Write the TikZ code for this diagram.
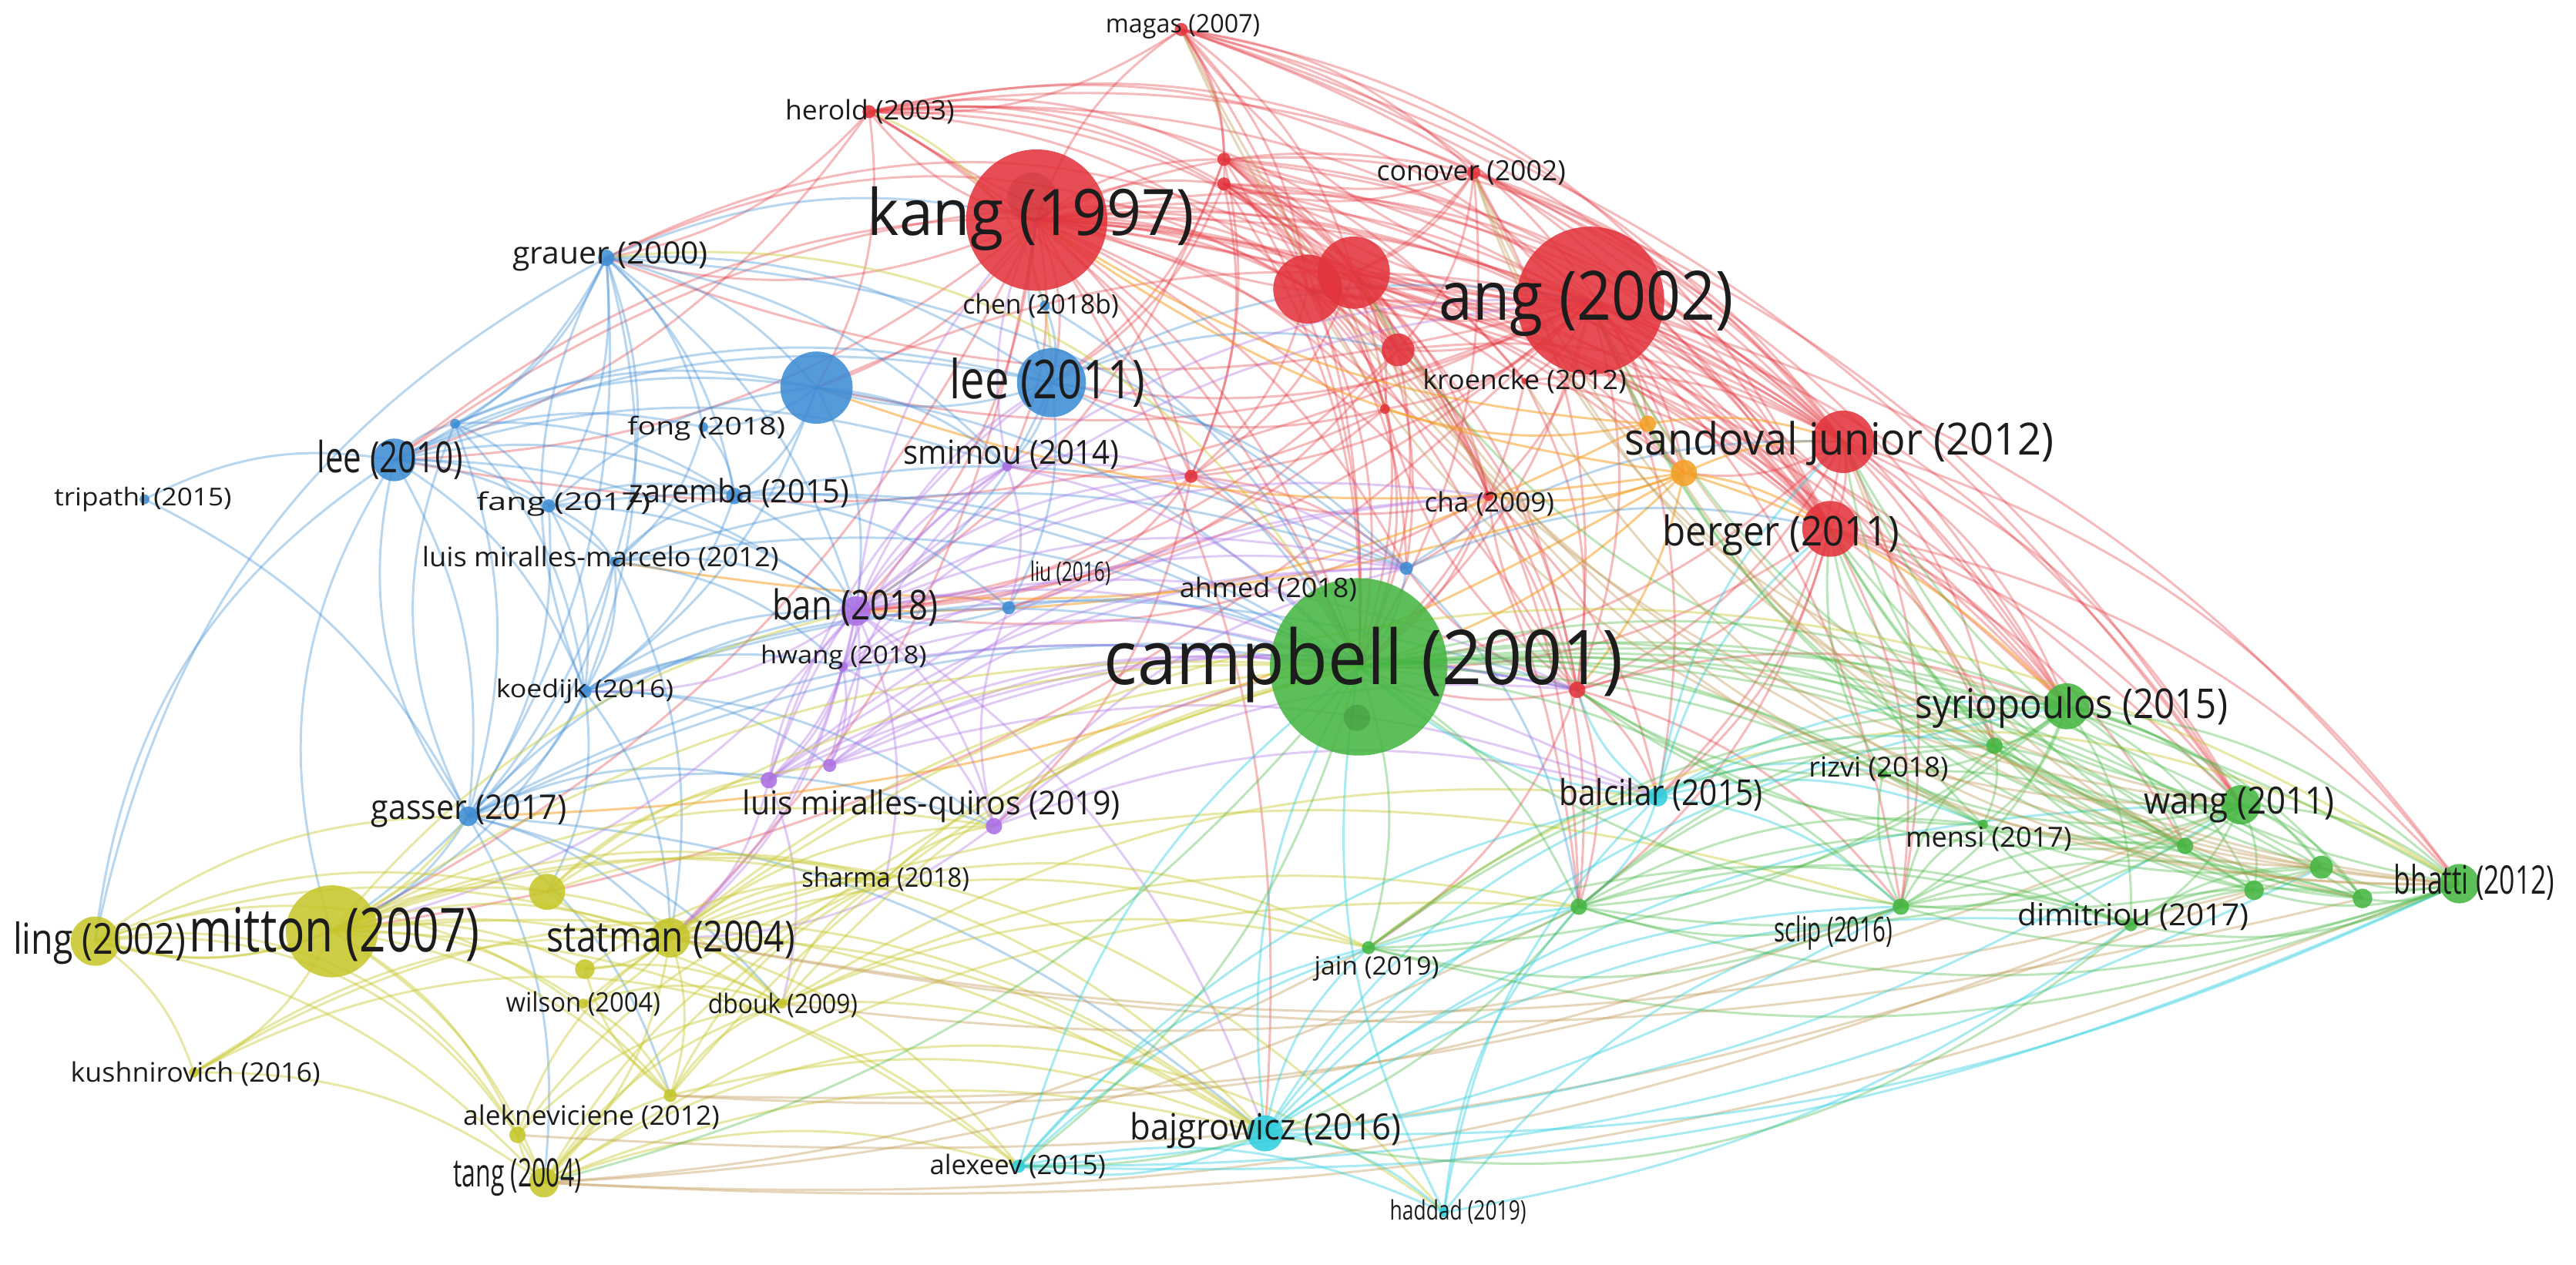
\documentclass[tikz,border=0pt]{standalone}
\usepackage{fontspec}
\setmainfont{Open Sans}
\usepackage{graphicx}
\pgfdeclarelayer{bg}
\pgfsetlayers{bg,main}
\definecolor{cR}{RGB}{226,52,60}
\definecolor{cB}{RGB}{62,140,212}
\definecolor{cG}{RGB}{70,182,66}
\definecolor{cY}{RGB}{198,198,44}
\definecolor{cP}{RGB}{172,112,228}
\definecolor{cC}{RGB}{48,206,222}
\definecolor{cO}{RGB}{246,160,40}
\definecolor{cRG}{RGB}{190,150,80}
\definecolor{txt}{RGB}{28,28,28}
\newdimen\unitlen
\unitlen=0.2pt
\newcommand\dotnode[5]{\node[nd,fill=#5,minimum size=#4\unitlen] (#1) at (#2,#3) {};}
\newcommand\lbl[6]{\node[lab] (#1) at (#2,#3) {\resizebox*{#4\unitlen}{#5\unitlen}{#6}};}
\begin{document}
\begin{tikzpicture}[x=0.2pt,y=-0.2pt,
  nd/.style={circle,inner sep=0pt,outer sep=0pt,draw=none,fill opacity=.88},
  lab/.style={inner sep=0pt,outer sep=0pt,text=txt},
  ew/.style={line width=0.28pt},
  eR/.style={ew,draw=cR,draw opacity=.34},
  eB/.style={ew,draw=cB,draw opacity=.36},
  eG/.style={ew,draw=cG,draw opacity=.36},
  eY/.style={ew,draw=cY,draw opacity=.42},
  eP/.style={ew,draw=cP,draw opacity=.36},
  eC/.style={ew,draw=cC,draw opacity=.42},
  eO/.style={ew,draw=cO,draw opacity=.55},
  eM/.style={ew,draw=cRG,draw opacity=.38}]
\useasboundingbox (0,0) rectangle (1568,769.7);
% ---------- nodes (circles) ----------
% red
\dotnode{kang}{631}{134}{86}{cR}
\dotnode{ang}{968}{183}{90}{cR}
\dotnode{ra}{796}{176}{42}{cR}
\dotnode{rb}{824}{166}{44}{cR}
\dotnode{rc}{851}{213}{20}{cR}
\dotnode{magas}{719}{18}{8}{cR}
\dotnode{herold}{529}{68}{8}{cR}
\dotnode{conover}{897}{105}{8}{cR}
\dotnode{rd}{745}{97}{8}{cR}
\dotnode{re}{745}{112}{8}{cR}
\dotnode{rf}{843}{249}{6}{cR}
\dotnode{rg}{725}{290}{8}{cR}
\dotnode{rh}{960}{420}{10}{cR}
\dotnode{cha}{906}{302}{6}{cR}
\dotnode{kroen}{928}{232}{4}{cR}
\dotnode{sand}{1122}{269}{38}{cR}
\dotnode{berger}{1114}{322}{34}{cR}
% orange
\dotnode{ora}{1025}{288}{16}{cO}
\dotnode{orb}{1003}{258}{10}{cO}
% blue
\dotnode{lee11}{640}{233}{42}{cB}
\dotnode{ba}{497}{236}{44}{cB}
\dotnode{lee10}{240}{280}{26}{cB}
\dotnode{bb}{277}{258}{6}{cB}
\dotnode{grauer}{369}{157}{10}{cB}
\dotnode{zaremba}{447}{302}{10}{cB}
\dotnode{fang}{334}{308}{8}{cB}
\dotnode{fong}{428}{260}{6}{cB}
\dotnode{koedijk}{356}{421}{8}{cB}
\dotnode{gasser}{285}{497}{12}{cB}
\dotnode{liu}{614}{370}{8}{cB}
\dotnode{chen}{636}{186}{6}{cB}
\dotnode{lmm}{374}{342}{6}{cB}
\dotnode{tripathi}{88}{304}{6}{cB}
\dotnode{ahmed}{856}{346}{8}{cB}
% purple
\dotnode{ban}{521}{372}{18}{cP}
\dotnode{smimou}{613}{284}{6}{cP}
\dotnode{hwang}{513}{406}{6}{cP}
\dotnode{pa}{468}{475}{10}{cP}
\dotnode{pb}{505}{466}{8}{cP}
\dotnode{pc}{605}{503}{10}{cP}
% yellow
\dotnode{mitton}{202}{567}{56}{cY}
\dotnode{ling}{58}{573}{30}{cY}
\dotnode{ya}{333}{543}{22}{cY}
\dotnode{statman}{408}{571}{24}{cY}
\dotnode{yb}{356}{590}{12}{cY}
\dotnode{alek}{408}{667}{8}{cY}
\dotnode{yc}{315}{691}{10}{cY}
\dotnode{tang}{331}{720}{18}{cY}
\dotnode{kush}{118}{653}{6}{cY}
\dotnode{wilson}{355}{611}{6}{cY}
\dotnode{dbouk}{476}{611}{6}{cY}
\dotnode{sharma}{539}{535}{6}{cY}
% cyan
\dotnode{bajg}{770}{690}{22}{cC}
\dotnode{balc}{1009}{485}{12}{cC}
\dotnode{alexeev}{620}{710}{8}{cC}
\dotnode{haddad}{879}{738}{6}{cC}
% green
\dotnode{campbell}{827}{406}{108}{cG}
\dotnode{ga}{961}{552}{10}{cG}
\dotnode{jain}{833}{577}{8}{cG}
\dotnode{syrio}{1258}{430}{28}{cG}
\dotnode{gb}{1214}{454}{10}{cG}
\dotnode{rizvi}{1146}{471}{6}{cG}
\dotnode{wang}{1364}{490}{24}{cG}
\dotnode{mensi}{1207}{502}{6}{cG}
\dotnode{gc}{1330}{515}{10}{cG}
\dotnode{gd}{1413}{528}{14}{cG}
\dotnode{ge}{1372}{542}{12}{cG}
\dotnode{gf}{1438}{547}{12}{cG}
\dotnode{bhatti}{1497}{538}{24}{cG}
\dotnode{dimit}{1297}{563}{8}{cG}
\dotnode{sclip}{1157}{552}{10}{cG}
\node[nd,fill=cG!70!black,fill opacity=.35,minimum size=16\unitlen] (gin) at (826,437) {};
\node[nd,fill=cR!80!black,fill opacity=.25,minimum size=30\unitlen] (kin) at (628,120) {};
% ---------- edges ----------
\begin{pgfonlayer}{bg}
\foreach \a/\b in {kang/ang,kang/ra,kang/rb,kang/rc,kang/magas,kang/herold,kang/conover,kang/rd,kang/re,kang/rf,kang/rg,kang/rh,kang/cha,kang/sand,kang/berger,kang/kroen,kang/campbell,kang/lee11,kang/ba,kang/grauer,kang/lee10,kang/ban,kang/smimou,kang/mitton,kang/syrio,kang/bajg,kang/ora,kang/ahmed,kang/statman,kang/wang,
ang/ra,ang/rb,ang/rc,ang/magas,ang/herold,ang/conover,ang/rd,ang/re,ang/rf,ang/rg,ang/rh,ang/cha,ang/sand,ang/berger,ang/kroen,ang/campbell,ang/lee11,ang/ba,ang/syrio,ang/wang,ang/bhatti,ang/gb,ang/balc,ang/ora,ang/orb,ang/ban,ang/lee10,ang/grauer,ang/sclip,ang/mitton,
magas/herold,magas/conover,magas/rd,magas/re,magas/ra,magas/rb,magas/sand,magas/berger,magas/campbell,magas/wang,magas/syrio,
herold/rd,herold/re,herold/ra,herold/rb,herold/conover,herold/lee10,herold/grauer,herold/ba,herold/rg,herold/campbell,
conover/ra,conover/rb,conover/rc,conover/rd,conover/re,conover/sand,conover/berger,conover/campbell,conover/rh,conover/syrio,conover/wang,
rd/ra,rd/rb,rd/rc,rd/rf,rd/rg,rd/cha,rd/campbell,rd/sand,rd/berger,rd/lee11,rd/ban,
re/ra,re/rb,re/rc,re/rf,re/rg,re/cha,re/campbell,re/sand,re/berger,re/lee11,re/kroen,
ra/rc,ra/rf,ra/rg,ra/rh,ra/cha,ra/sand,ra/berger,ra/campbell,ra/ahmed,ra/syrio,ra/ga,ra/ora,
rb/rc,rb/rf,rb/rg,rb/rh,rb/cha,rb/sand,rb/berger,rb/campbell,rb/ahmed,rb/syrio,rb/ga,rb/ora,
sand/berger,sand/campbell,sand/syrio,sand/wang,sand/bhatti,sand/rh,sand/ora,sand/gb,sand/sclip,sand/balc,
berger/campbell,berger/syrio,berger/wang,berger/bhatti,berger/gb,berger/gc,berger/rh,berger/sclip,berger/ga,berger/balc,
rh/campbell,rh/balc,rh/ga,rh/syrio,rh/sclip,rh/jain,rh/rf,rh/cha,rh/ahmed,
cha/campbell,cha/ahmed,cha/rg,cha/ban,rc/campbell,rc/cha,rc/rh,rc/sand,kroen/sand,kroen/campbell,rg/campbell,rg/ban,rg/liu,
rf/campbell,rf/ban,rf/smimou,rf/lee11,rc/ban,rc/liu,kroen/berger,kroen/rh,cha/balc,cha/ga,rg/ahmed,rg/pc}
  \draw[eR] (\a.center) to[bend left=18] (\b.center);
% top arcs
\foreach \a/\b in {herold/ang,herold/sand,kang/sand,kang/berger,rd/sand,re/berger,magas/berger,herold/rc,herold/berger,kang/rc,lee10/ang,grauer/rb,grauer/ra,herold/kroen,ba/sand,lee10/rb,rd/berger,magas/ora}
  \draw[eR] (\a.center) to[bend left=28] (\b.center);
\foreach \a/\b in {ora/sand,ora/berger,ora/kang,ora/campbell,ora/rh,ora/cha,ora/ba,orb/sand,orb/kang,orb/rf,ora/gasser,ora/lmm,orb/ban,ora/syrio}
  \draw[eO] (\a.center) to[bend left=14] (\b.center);
\foreach \a/\b in {grauer/lee10,grauer/ba,grauer/lee11,grauer/bb,grauer/zaremba,grauer/fang,grauer/fong,grauer/lmm,grauer/koedijk,grauer/gasser,grauer/kang,grauer/smimou,grauer/ban,
lee10/bb,lee10/fang,lee10/zaremba,lee10/lmm,lee10/koedijk,lee10/gasser,lee10/ba,lee10/lee11,lee10/fong,lee10/ban,
fang/zaremba,fang/lmm,fang/koedijk,fang/gasser,fang/ba,bb/fang,bb/zaremba,bb/koedijk,
lmm/koedijk,lmm/gasser,lmm/zaremba,lmm/ban,lmm/campbell,lmm/statman,lmm/mitton,
koedijk/gasser,koedijk/ban,koedijk/hwang,koedijk/statman,koedijk/mitton,koedijk/campbell,koedijk/pc,koedijk/ya,
gasser/mitton,gasser/statman,gasser/ban,gasser/campbell,gasser/pc,gasser/tang,gasser/alek,gasser/dbouk,gasser/bajg,
lee11/ba,lee11/ban,lee11/smimou,lee11/campbell,lee11/ang,lee11/liu,lee11/ahmed,lee11/rc,
ba/zaremba,ba/fong,ba/smimou,ba/campbell,ba/ban,ba/koedijk,zaremba/ban,zaremba/campbell,zaremba/koedijk,
ahmed/campbell,ahmed/sand,tripathi/gasser,tripathi/lee10,liu/campbell,liu/ban,chen/kang,chen/campbell,chen/lee11,
lmm/ahmed,zaremba/ahmed,koedijk/rh,gasser/rh,fang/campbell,grauer/ahmed,bb/ba,bb/lee11,lee10/smimou,zaremba/liu,fang/ban,lmm/hwang,koedijk/pb,gasser/pa,bb/gasser,fong/zaremba,fong/lmm,lee11/kang,ahmed/berger,ahmed/ga}
  \draw[eB] (\a.center) to[bend left=18] (\b.center);
\foreach \a/\b in {mitton/lee10,ling/lee10,gasser/lee10,koedijk/grauer,ling/grauer,gasser/bb}
  \draw[eB] (\a.center) to[bend left=25] (\b.center);
\foreach \a/\b in {ban/smimou,ban/hwang,ban/pa,ban/pb,ban/pc,ban/campbell,ban/liu,ban/statman,ban/sharma,ban/koedijk,ban/lee11,ban/kang,ban/ang,ban/rg,ban/mitton,ban/ahmed,ban/bajg,
hwang/pa,hwang/pb,hwang/pc,hwang/campbell,hwang/smimou,hwang/liu,
pa/campbell,pa/ban,pa/statman,pa/smimou,pa/ahmed,pb/campbell,pb/balc,pb/rh,pc/campbell,pc/balc,pc/rh,pc/ahmed,pc/statman,
smimou/campbell,smimou/liu,smimou/rg,smimou/ahmed,smimou/kang,smimou/ang,
pa/rh,hwang/ahmed,hwang/balc,pb/ahmed,pa/lee11,pb/smimou,pc/liu,hwang/rg,pa/cha,pb/cha,ban/cha,ban/rh,hwang/statman,pa/dbouk}
  \draw[eP] (\a.center) to[bend left=18] (\b.center);
\foreach \a/\b in {mitton/ling,mitton/ya,mitton/statman,mitton/yb,mitton/alek,mitton/yc,mitton/tang,mitton/kush,mitton/wilson,mitton/dbouk,mitton/sharma,mitton/campbell,mitton/bajg,mitton/alexeev,mitton/pc,mitton/ban,
ling/kush,ling/ya,ling/statman,ling/tang,ling/gasser,kush/tang,kush/statman,
statman/ya,statman/yb,statman/alek,statman/tang,statman/dbouk,statman/wilson,statman/sharma,statman/campbell,statman/bajg,statman/alexeev,statman/jain,statman/sclip,
tang/alek,tang/yc,tang/dbouk,tang/bajg,tang/alexeev,tang/campbell,tang/ga,
alek/dbouk,alek/yb,alek/bajg,alek/campbell,yc/statman,yc/dbouk,ya/dbouk,ya/campbell,ya/sharma,
dbouk/sharma,dbouk/campbell,dbouk/bajg,dbouk/jain,dbouk/balc,sharma/campbell,sharma/pc,wilson/dbouk,wilson/sharma,
ya/pa,ya/pb,yb/dbouk,yb/sharma,wilson/alek,statman/pc,sharma/jain,dbouk/ga,alek/sharma,yc/sharma,tang/sharma}
  \draw[eY] (\a.center) to[bend left=18] (\b.center);
\foreach \a/\b in {mitton/bajg,ling/tang,kush/bajg,tang/haddad,jain/bhatti,statman/bhatti,herold/lee11,grauer/campbell,gasser/ling,ling/alek,kush/alexeev,ling/yc,mitton/haddad}
  \draw[eY] (\a.center) to[bend left=35] (\b.center);
% bottom arcs (bulging downward)
\foreach \a/\b in {bhatti/tang,dimit/tang,sclip/alek,gf/statman,ga/tang,jain/tang,sclip/dbouk,wang/alek,gd/yc,ge/statman}
  \draw[eM] (\a.center) to[bend left=12] (\b.center);
\foreach \a/\b in {bajg/alexeev,bajg/haddad,bajg/campbell,bajg/balc,bajg/jain,bajg/ga,bajg/sclip,bajg/syrio,bajg/wang,
alexeev/campbell,alexeev/haddad,alexeev/balc,alexeev/jain,haddad/balc,haddad/campbell,haddad/sclip,
balc/campbell,balc/syrio,balc/rizvi,balc/rh,balc/ga,balc/sand,balc/sclip,
balc/berger,balc/gb,balc/mensi,bajg/dimit,haddad/ga,alexeev/ga}
  \draw[eC] (\a.center) to[bend left=18] (\b.center);
\foreach \a/\b in {bhatti/alexeev,sclip/alexeev,gd/alexeev,wang/bajg,dimit/haddad,bhatti/bajg}
  \draw[eC] (\a.center) to[bend left=13] (\b.center);
\foreach \a/\b in {campbell/syrio,campbell/gb,campbell/rizvi,campbell/wang,campbell/mensi,campbell/gc,campbell/gd,campbell/ge,campbell/gf,campbell/bhatti,campbell/dimit,campbell/sclip,campbell/ga,campbell/jain,campbell/alexeev,campbell/tang,
syrio/gb,syrio/rizvi,syrio/wang,syrio/mensi,syrio/gc,syrio/gd,syrio/ge,syrio/gf,syrio/bhatti,syrio/dimit,syrio/sclip,syrio/ga,syrio/jain,
wang/gc,wang/gd,wang/ge,wang/gf,wang/bhatti,wang/dimit,wang/sclip,wang/mensi,wang/gb,wang/rizvi,wang/ga,
bhatti/gd,bhatti/gf,bhatti/ge,bhatti/dimit,bhatti/sclip,bhatti/ga,bhatti/jain,bhatti/gc,
sclip/ga,sclip/dimit,sclip/gf,sclip/mensi,sclip/rizvi,sclip/jain,sclip/gb,sclip/gc,
ga/jain,ga/dimit,ga/mensi,ga/gf,dimit/gf,dimit/gd,dimit/ge,dimit/mensi,jain/dimit,gb/mensi,gb/gc,rizvi/gc,gd/gf,
gb/berger,gc/berger,gd/berger,ge/sand,rizvi/berger,mensi/berger,gb/sand,rizvi/rh,mensi/rh,gc/rh,ge/gb,gf/gb,gd/rizvi,jain/gb,jain/syrio,ga/gb,ga/syrio}
  \draw[eG] (\a.center) to[bend left=18] (\b.center);
\foreach \a/\b in {bhatti/sand,wang/ang,gf/berger,dimit/bajg,gd/campbell,ga/alexeev,syrio/rb,gc/ang,ge/ang}
  \draw[eG] (\a.center) to[bend left=26] (\b.center);
% outer arcs on the right
\foreach \a/\b in {bhatti/ang,bhatti/conover,bhatti/rb,wang/conover,gd/ang,gf/sand,syrio/conover,bhatti/magas,wang/magas,gd/rb,bhatti/kroen,wang/ra}
  \draw[eM] (\a.center) to[bend left=30] (\b.center);
\end{pgfonlayer}
% ---------- labels ----------
\lbl{l-magas}{720}{16}{94}{15}{magas (2007)}
\lbl{l-herold}{529.5}{68}{103}{15}{herold (2003)}
\lbl{l-conover}{895.5}{105}{115}{15}{conover (2002)}
\lbl{l-kang}{627.5}{133}{199}{39}{kang (1997)}
\lbl{l-chen}{633.5}{186}{95}{15}{chen (2018b)}
\lbl{l-ang}{965.5}{185}{179}{40}{ang (2002)}
\lbl{l-grauer}{371.5}{156}{119}{18}{grauer (2000)}
\lbl{l-lee11}{637.5}{233}{119}{30}{lee (2011)}
\lbl{l-kroen}{928}{232}{124}{15}{kroencke (2012)}
\lbl{l-fong}{430}{261}{96}{15}{fong (2018)}
\lbl{l-lee10}{237.5}{280}{89}{24}{lee (2010)}
\lbl{l-smimou}{615.5}{277}{131}{18}{smimou (2014)}
\lbl{l-sand}{1119.5}{270}{261}{27}{sandoval junior (2012)}
\lbl{l-tripathi}{87}{304}{108}{15}{tripathi (2015)}
\lbl{l-fang}{343}{307}{106}{15}{fang (2017)}
\lbl{l-zaremba}{450}{300}{134}{18}{zaremba (2015)}
\lbl{l-cha}{906.5}{307}{79}{15}{cha (2009)}
\lbl{l-berger}{1084}{326}{144}{25}{berger (2011)}
\lbl{l-lmm}{365.5}{340}{217}{15}{luis miralles-marcelo (2012)}
\lbl{l-liu}{651.5}{349}{49}{15}{liu (2016)}
\lbl{l-ahmed}{772}{359}{108}{15}{ahmed (2018)}
\lbl{l-ban}{520.5}{370}{101}{23}{ban (2018)}
\lbl{l-hwang}{513.5}{400}{101}{15}{hwang (2018)}
\lbl{l-campbell}{830}{405}{316}{46}{campbell (2001)}
\lbl{l-koedijk}{356}{421}{108}{15}{koedijk (2016)}
\lbl{l-syrio}{1261}{431}{190}{25}{syriopoulos (2015)}
\lbl{l-rizvi}{1143.5}{468}{85}{15}{rizvi (2018)}
\lbl{l-balc}{1011}{484}{124}{20}{balcilar (2015)}
\lbl{l-gasser}{285.5}{494}{119}{20}{gasser (2017)}
\lbl{l-lmq}{567}{491}{230}{20}{luis miralles-quiros (2019)}
\lbl{l-wang}{1363}{490}{116}{22}{wang (2011)}
\lbl{l-mensi}{1210.5}{511}{101}{15}{mensi (2017)}
\lbl{l-sharma}{539}{535}{102}{15}{sharma (2018)}
\lbl{l-bhatti}{1506}{537}{98}{22}{bhatti (2012)}
\lbl{l-dimit}{1298.5}{558}{141}{17}{dimitriou (2017)}
\lbl{l-ling}{60.5}{574}{105}{26}{ling (2002)}
\lbl{l-mitton}{203.5}{569}{177}{33}{mitton (2007)}
\lbl{l-statman}{408.5}{572}{151}{23}{statman (2004)}
\lbl{l-sclip}{1116}{568}{72}{21}{sclip (2016)}
\lbl{l-jain}{838}{590}{76}{15}{jain (2019)}
\lbl{l-wilson}{355}{611}{94}{15}{wilson (2004)}
\lbl{l-dbouk}{476.5}{612}{91}{15}{dbouk (2009)}
\lbl{l-kush}{119}{654}{152}{15}{kushnirovich (2016)}
\lbl{l-alek}{360}{680}{156}{15}{alekneviciene (2012)}
\lbl{l-bajg}{770.5}{688}{165}{22}{bajgrowicz (2016)}
\lbl{l-tang}{315}{717}{78}{23}{tang (2004)}
\lbl{l-alexeev}{619.5}{710}{107}{15}{alexeev (2015)}
\lbl{l-haddad}{887.5}{738}{83}{15}{haddad (2019)}
\end{tikzpicture}
\end{document}
